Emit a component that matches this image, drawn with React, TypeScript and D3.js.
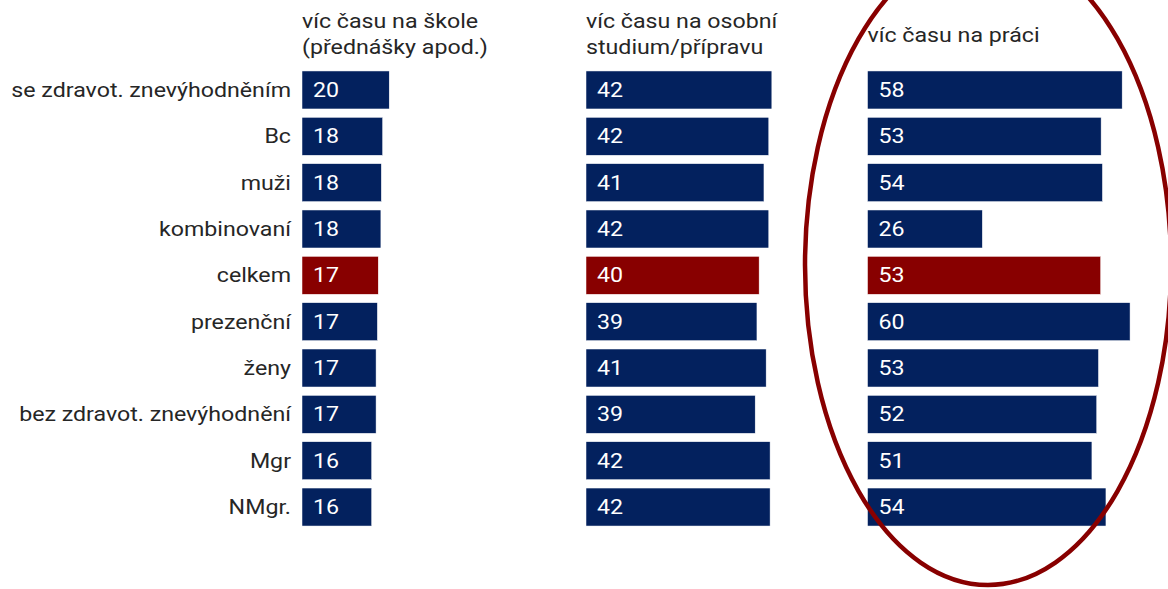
import React from "react";
import * as d3 from "d3";

const categories = [
  "se zdravot. znevýhodněním",
  "Bc",
  "muži",
  "kombinovaní",
  "celkem",
  "prezenční",
  "ženy",
  "bez zdravot. znevýhodnění",
  "Mgr",
  "NMgr.",
];

const skolaValues = [19.9, 18.4, 18.1, 18.0, 17.4, 17.2, 16.9, 16.9, 15.9, 15.9];
const studiumValues = [42.4, 41.7, 40.6, 41.7, 39.5, 39.0, 41.1, 38.6, 42.0, 42.0];
const praceValues = [58.1, 53.3, 53.6, 26.2, 53.2, 59.9, 52.7, 52.3, 51.2, 54.4];

const panelTitles = [
  ["víc času na škole", "(přednášky apod.)"],
  ["víc času na osobní", "studium/přípravu"],
  ["víc času na práci"],
];

const highlightCategory = "celkem";

const W = 1168;
const H = 589;
const FONT = "Roboto, 'Noto Sans', sans-serif";
const NAVY = "#03215e";
const RED = "#880000";
const TEXT = "#262626";
const FS = 20;
const SX = 1.16;

function T({ x, y, anchor, fill, children }: any) {
  return (
    <text
      transform={`translate(${x},${y}) scale(${SX},1)`}
      textAnchor={anchor || "start"}
      fontSize={FS}
      fill={fill}
    >
      {children}
    </text>
  );
}

export default function App() {
  const series = [skolaValues, studiumValues, praceValues];
  const panelX = [302, 586, 867.5];

  const y = d3
    .scaleBand<string>()
    .domain(categories)
    .range([66.8, 530.2])
    .paddingInner(0.18)
    .paddingOuter(0.09);

  const x = d3.scaleLinear().domain([0, 60]).range([0, 263]);

  return (
    <svg
      width={W}
      height={H}
      style={{ position: "absolute", left: 0, top: 0, display: "block" }}
      fontFamily={FONT}
    >
      <rect width={W} height={H} fill="#ffffff" />
      {categories.map((c) => (
        <T key={c} x={291} y={(y(c) ?? 0) + y.bandwidth() / 2 + 7} anchor="end" fill={TEXT}>
          {c}
        </T>
      ))}
      {series.map((vals, si) => {
        const px = panelX[si];
        const lines = panelTitles[si];
        const titleY = lines.length === 2 ? [28, 54] : [42];
        return (
          <g key={si} transform={`translate(${px},0)`}>
            {lines.map((t, li) => (
              <T key={li} x={0} y={titleY[li]} fill={TEXT}>
                {t}
              </T>
            ))}
            {categories.map((c, i) => {
              const yy = y(c) ?? 0;
              return (
                <g key={c}>
                  <rect
                    x={x(0)}
                    y={yy}
                    width={x(vals[i]) - x(0)}
                    height={y.bandwidth()}
                    fill={c === highlightCategory ? RED : NAVY}
                    stroke="#ffffff"
                    strokeWidth={0.5}
                  />
                  <T x={x(0) + 11} y={yy + y.bandwidth() / 2 + 7} fill="#ffffff">
                    {d3.format(".0f")(vals[i])}
                  </T>
                </g>
              );
            })}
          </g>
        );
      })}
      <ellipse
        cx={988}
        cy={265}
        rx={183}
        ry={320}
        fill="none"
        stroke={RED}
        strokeWidth={4.5}
      />
    </svg>
  );
}
